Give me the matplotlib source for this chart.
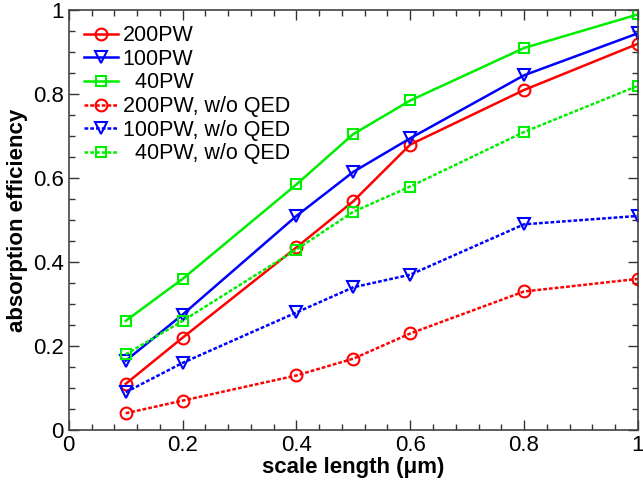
import matplotlib.pyplot as plt
from matplotlib.ticker import MultipleLocator, FuncFormatter

plt.rcParams['font.family'] = ['Liberation Sans', 'DejaVu Sans']

x = [0.1, 0.2, 0.4, 0.5, 0.6, 0.8, 1.0]
y200 = [0.11, 0.22, 0.435, 0.545, 0.68, 0.81, 0.92]
y100 = [0.165, 0.275, 0.51, 0.615, 0.695, 0.845, 0.945]
y40 = [0.26, 0.36, 0.585, 0.705, 0.785, 0.91, 0.99]
y200_noqed = [0.04, 0.07, 0.13, 0.17, 0.23, 0.33, 0.36]
y100_noqed = [0.09, 0.16, 0.28, 0.34, 0.37, 0.49, 0.51]
y40_noqed = [0.18, 0.26, 0.43, 0.52, 0.58, 0.71, 0.82]

red = '#ff0000'
blue = '#0000ff'
green = '#00ee00'
dot = (0, (1.5, 0.8))

fig = plt.figure(figsize=(6.43, 4.87), dpi=100)
ax = fig.add_axes([0.107, 0.117, 0.885, 0.862])

ax.plot(x, y200, color=red, marker='o', ms=8.5, mfc='none', mew=1.5, lw=1.8, label='200PW')
ax.plot(x, y100, color=blue, marker='v', ms=9, mfc='none', mew=1.5, lw=1.8, label='100PW')
ax.plot(x, y40, color=green, marker='s', ms=6.5, mfc='none', mew=1.5, lw=1.8, label='  40PW')
ax.plot(x, y200_noqed, color=red, marker='o', ms=8.5, mfc='none', mew=1.5, lw=1.8, ls=dot, label='200PW, w/o QED')
ax.plot(x, y100_noqed, color=blue, marker='v', ms=9, mfc='none', mew=1.5, lw=1.8, ls=dot, label='100PW, w/o QED')
ax.plot(x, y40_noqed, color=green, marker='s', ms=6.5, mfc='none', mew=1.5, lw=1.8, ls=dot, label='  40PW, w/o QED')

ax.set_xlim(0, 1)
ax.set_ylim(0, 1)
fmt = FuncFormatter(lambda v, p: '%g' % round(v, 2))
ax.xaxis.set_major_locator(MultipleLocator(0.2))
ax.xaxis.set_minor_locator(MultipleLocator(0.04))
ax.yaxis.set_major_locator(MultipleLocator(0.2))
ax.yaxis.set_minor_locator(MultipleLocator(0.05))
ax.xaxis.set_major_formatter(fmt)
ax.yaxis.set_major_formatter(fmt)
ax.tick_params(which='both', direction='in', top=True, right=True, labelsize=16, color='#333333')
ax.tick_params(which='major', length=7, width=1)
ax.tick_params(which='minor', length=4, width=1)
for s in ax.spines.values():
    s.set_color('#444444')
    s.set_linewidth(1.2)

ax.set_xlabel('scale length (\u03bcm)', fontsize=16, fontweight='bold', labelpad=1)
ax.set_ylabel('absorption efficiency', fontsize=16, fontweight='bold', labelpad=4)

ax.legend(loc='upper left', frameon=False, fontsize=15.5, handlelength=1.6, handletextpad=0.2,
          labelspacing=0.12, borderaxespad=0.3, borderpad=0.4)

fig.savefig('out.png', dpi=100)
